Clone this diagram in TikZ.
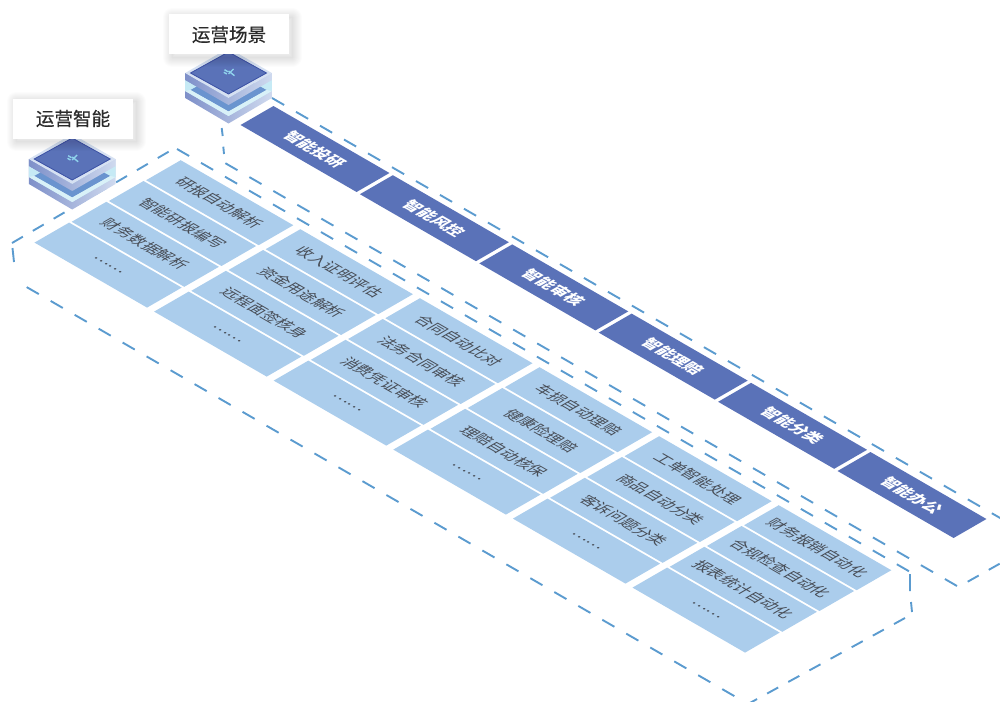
\documentclass[tikz,border=0pt]{standalone}
\usepackage{fontspec}
\setmainfont{Noto Sans CJK SC}
\newfontfamily\capfont[FakeBold=.5]{Noto Sans CJK SC}
\usepackage{tikz}
\definecolor{block}{HTML}{ABCDEC}
\definecolor{bar}{HTML}{5A72B8}
\definecolor{frame}{HTML}{5B9BCF}
\definecolor{word}{HTML}{474C55}
\definecolor{capword}{HTML}{2B2B2B}
\definecolor{sidedark}{HTML}{7E90C9}
\definecolor{sidelight}{HTML}{CFDAEF}
\definecolor{glass}{HTML}{C6EAF5}
\definecolor{midface}{HTML}{6A94CF}
\definecolor{midrim}{HTML}{D9F1F8}
\definecolor{toprim}{HTML}{D6E1F2}
\definecolor{topline}{HTML}{3A50A4}
\definecolor{cubesign}{HTML}{8FD3EC}
\tikzset{
  iso/.style={cm={.866,-.5,.866,.5,(0,0)}, transform shape},
  blockbox/.style={iso, fill=block, text=word, inner sep=0pt, minimum width=130pt, minimum height=40pt, font=\fontsize{15.5}{18}\selectfont},
  barbox/.style={iso, fill=bar, text=white, inner sep=0pt, minimum width=134pt, minimum height=38pt, font=\fontsize{16}{18}\selectfont\bfseries},
  frameline/.style={draw=frame, line width=1.9pt},
  framedash/.style={frameline, dash pattern=on 14pt off 13.7pt},
  frameshort/.style={frameline, dash pattern=on 12.6pt off 11.5pt},
  softring/.style={preaction={draw=black, draw opacity=.013, line width=#1, line join=round, transform canvas={xshift=3pt,yshift=-3pt}}},
  capbox/.style={softring=1pt, softring=3pt, softring=5pt, softring=7pt, softring=9pt, softring=11pt, softring=13pt, softring=15pt, softring=17pt, softring=19pt, fill=white, text=capword, inner sep=0pt, minimum width=120pt, minimum height=40pt, font=\fontsize{18.6}{21}\selectfont\capfont},
  cube/.pic={
    \shade[left color=sidedark, right color=sidelight] (-43.3,0) -- (0,25) -- (43.3,0) -- (43.3,25) -- (0,50.5) -- (-43.3,25) -- cycle;
    \fill[glass] (-43.3,7) -- (0,32) -- (43.3,7) -- (43.3,18) -- (0,43) -- (-43.3,18) -- cycle;
    \fill[midface] (-38,17) -- (0,-4) -- (38,17) -- (0,38.5) -- cycle;
    \fill[midrim] (-43.3,18) -- (-38,17) -- (0,38.5) -- (38,17) -- (43.3,18) -- (0,43) -- cycle;
    \shade[left color=sidedark, right color=sidelight] (-43.3,0) -- (0,25) -- (43.3,0) -- (43.3,7) -- (0,32) -- (-43.3,7) -- cycle;
    \fill[toprim] (-43.3,0) -- (0,-25) -- (43.3,0) -- (0,25) -- cycle;
    \fill[bar, draw=topline, line width=.8pt] (-38,0) -- (0,-21) -- (38,0) -- (0,21) -- cycle;
    \draw[cubesign, line width=1.4pt] (-4,-3.3) -- (-.7,-1.3) (0,-2) -- (6,2.7) (5,-4) -- (0,1) (-4.7,-.7) -- (-1.7,1);
  }
}
\begin{document}
\begin{tikzpicture}[x=1pt,y=-1pt]
\clip (0,0) rectangle (1000,701);
% frames
\draw[framedash] (272,98) -- (1040,541) (957,586) -- (225,163);
\draw[frameshort] (967.7,581.7) -- (1040,541);
\draw[frameline] (221.7,128) -- (222.7,136) (223.3,146.7) -- (224,154);
\draw[framedash] (177,149) -- (912,573) (26.7,287.1) -- (748,704);
\draw[frameshort] (12,243) -- (175,148) (905,618) -- (748,704);
\draw[frameline] (910,574) -- (910,591) (911,602) -- (912,612) (12.5,248) -- (14,262);
% bars
\node[barbox] (invest) at (315,149) {智能投研};
\node[barbox] (risk) at (434.4,218.2) {智能风控};
\node[barbox] (audit) at (553.8,287.4) {智能审核};
\node[barbox] (claim) at (673.2,356.6) {智能理赔};
\node[barbox] (sort) at (792.6,425.8) {智能分类};
\node[barbox] (office) at (912,495) {智能办公};
% blocks
\node[blockbox] (a1) at (219.7,202.7) {研报自动解析};
\node[blockbox] (a2) at (182.5,223.5) {智能研报编写};
\node[blockbox] (a3) at (145.3,244.3) {财务数据解析};
\node[blockbox] (a4) at (108.1,265.1) {……};
\node[blockbox] (b1) at (339.3,271.7) {收入证明评估};
\node[blockbox] (b2) at (302.1,292.5) {资金用途解析};
\node[blockbox] (b3) at (264.9,313.3) {远程面签核身};
\node[blockbox] (b4) at (227.7,334.1) {……};
\node[blockbox] (c1) at (458.9,340.7) {合同自动比对};
\node[blockbox] (c2) at (421.7,361.5) {法务合同审核};
\node[blockbox] (c3) at (384.5,382.3) {消费凭证审核};
\node[blockbox] (c4) at (347.3,403.1) {……};
\node[blockbox] (d1) at (578.5,409.7) {车损自动理赔};
\node[blockbox] (d2) at (541.3,430.5) {健康险理赔};
\node[blockbox] (d3) at (504.1,451.3) {理赔自动核保};
\node[blockbox] (d4) at (466.9,472.1) {……};
\node[blockbox] (e1) at (698.1,478.7) {工单智能处理};
\node[blockbox] (e2) at (660.9,499.5) {商品自动分类};
\node[blockbox] (e3) at (623.7,520.3) {客诉问题分类};
\node[blockbox] (e4) at (586.5,541.1) {……};
\node[blockbox] (f1) at (817.7,547.7) {财务报销自动化};
\node[blockbox] (f2) at (780.5,568.5) {合规检查自动化};
\node[blockbox] (f3) at (743.3,589.3) {报表统计自动化};
\node[blockbox] (f4) at (706.1,610.1) {……};
% cubes and captions
\pic at (228.5,73) {cube};
\pic at (72.2,159) {cube};
\node[capbox] (scene) at (229,34.5) {运营场景};
\node[capbox] (smart) at (73,118.5) {运营智能};
\end{tikzpicture}
\end{document}
